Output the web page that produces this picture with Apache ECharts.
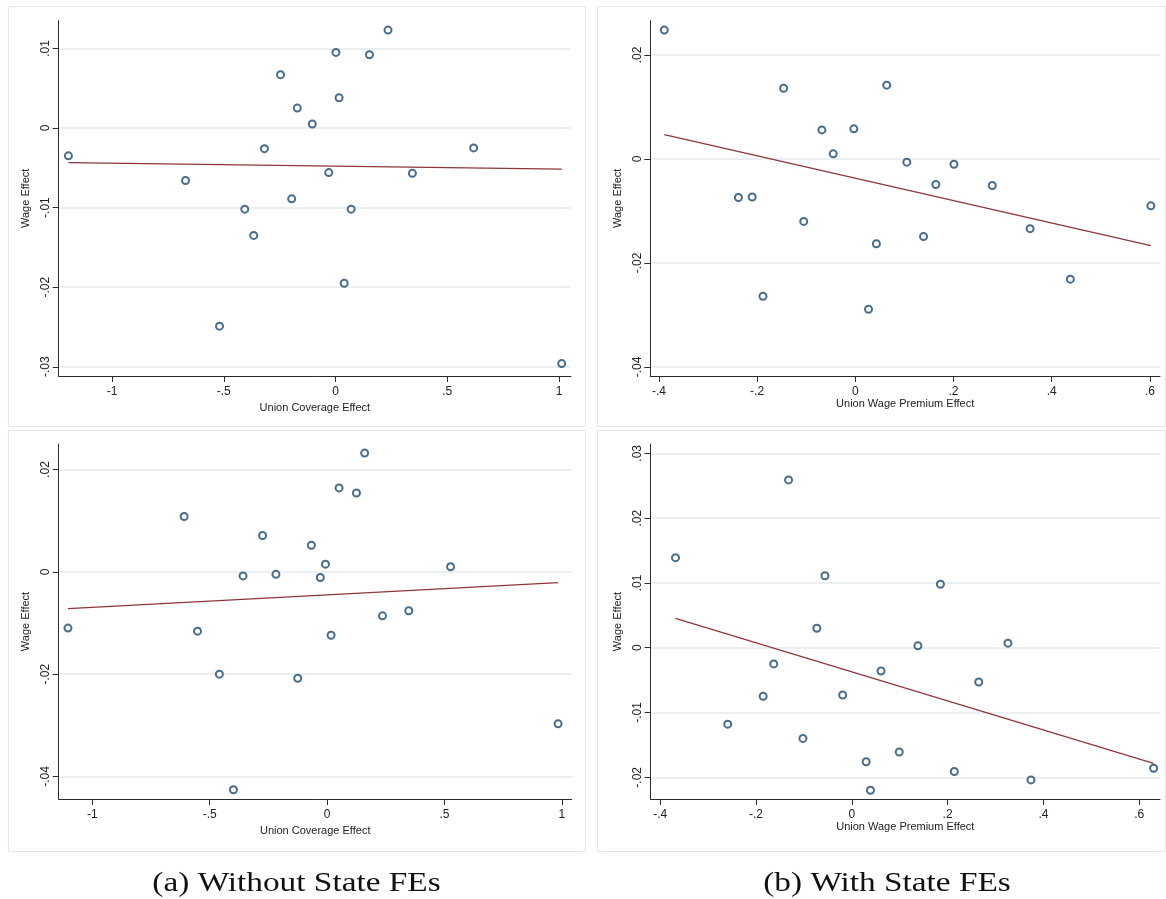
<!DOCTYPE html>
<html><head><meta charset="utf-8">
<script src="https://cdn.jsdelivr.net/npm/echarts@6/dist/echarts.min.js"></script>
<style>html,body{margin:0;padding:0;background:#fff}#c{width:1166px;height:899px}</style>
</head><body><div id="c"></div>
<script>
// ---- Data ----
// (a) Without State FEs, top: Union Coverage Effect vs Wage Effect
const tlCoverage = [-1.195,-0.671,-0.519,-0.406,-0.366,-0.318,-0.246,-0.196,-0.171,-0.104,-0.030,0.002,0.016,0.039,0.070,0.152,0.235,0.344,0.618,1.012];
const tlWage     = [-0.0035,-0.0066,-0.0249,-0.0102,-0.0135,-0.0026,0.0067,-0.0089,0.0025,0.0005,-0.0056,0.0095,0.0038,-0.0195,-0.0102,0.0092,0.0123,-0.0057,-0.0025,-0.0296];
const tlFitX = [-1.195, 1.012];
const tlFitY = [-0.00435, -0.00518];
// (a) Without State FEs, bottom
const blCoverage = [-1.104,-0.609,-0.552,-0.459,-0.399,-0.358,-0.275,-0.218,-0.125,-0.067,-0.029,-0.007,0.017,0.051,0.125,0.160,0.236,0.348,0.526,0.984];
const blWage     = [-0.0110,0.0108,-0.0116,-0.0200,-0.0426,-0.0008,0.0071,-0.0005,-0.0208,0.0052,-0.0011,0.0015,-0.0124,0.0164,0.0154,0.0232,-0.0086,-0.0076,0.0010,-0.0297];
const blFitX = [-1.104, 0.984];
const blFitY = [-0.0072, -0.00212];
// (b) With State FEs, top: Union Wage Premium Effect vs Wage Effect
const trPremium = [-0.389,-0.238,-0.210,-0.188,-0.146,-0.105,-0.068,-0.045,-0.003,0.027,0.043,0.064,0.105,0.139,0.164,0.201,0.279,0.356,0.438,0.602];
const trWage    = [0.0248,-0.0074,-0.0073,-0.0264,0.0136,-0.0120,0.0056,0.0010,0.0058,-0.0289,-0.0163,0.0142,-0.0006,-0.0149,-0.0049,-0.0010,-0.0051,-0.0134,-0.0231,-0.0090];
const trFitX = [-0.389, 0.602];
const trFitY = [0.00467, -0.01667];
// (b) With State FEs, bottom
const brPremium = [-0.368,-0.259,-0.185,-0.163,-0.132,-0.102,-0.073,-0.056,-0.019,0.030,0.039,0.061,0.099,0.138,0.185,0.214,0.265,0.326,0.374,0.630];
const brWage    = [0.0139,-0.0118,-0.0075,-0.0025,0.0259,-0.0140,0.0030,0.0111,-0.0073,-0.0176,-0.0220,-0.0036,-0.0161,0.0003,0.0098,-0.0191,-0.0053,0.0007,-0.0204,-0.0186];
const brFitX = [-0.368, 0.630];
const brFitY = [0.00453, -0.01785];

// Tick values
const coverageTicks = [-1, -0.5, 0, 0.5, 1];
const premiumTicks  = [-0.4, -0.2, 0, 0.2, 0.4, 0.6];
const tlYTicks = [-0.03, -0.02, -0.01, 0, 0.01];
const trYTicks = [-0.04, -0.02, 0, 0.02];
const blYTicks = [-0.04, -0.02, 0, 0.02];
const brYTicks = [-0.02, -0.01, 0, 0.01, 0.02, 0.03];

const xTitleCoverage = 'Union Coverage Effect';
const xTitlePremium = 'Union Wage Premium Effect';
const yTitle = 'Wage Effect';
const captions = ['(a) Without State FEs', '(b) With State FEs'];

// ---- Styling / layout ----
const FONT = 'Liberation Sans, Arial, sans-serif';
const fmt = v => String(+(+v).toFixed(4)).replace(/^(-?)0\./, '$1.');
const panels = [
  {grid:{left:58.7, top:20.7, width:512.3, height:355.3}, xr:[-1.2385,1.0537], yr:[-0.03116,0.01348], xt:coverageTicks, yt:tlYTicks, xn:xTitleCoverage, xg:26, x:tlCoverage, y:tlWage, fx:tlFitX, fy:tlFitY},
  {grid:{left:650.3, top:20.7, width:509.7, height:355.3}, xr:[-0.4175,0.6206], yr:[-0.04173,0.0266], xt:premiumTicks, yt:trYTicks, xn:xTitlePremium, xg:22, x:trPremium, y:trWage, fx:trFitX, fy:trFitY},
  {grid:{left:58.7, top:444, width:513, height:355}, xr:[-1.1434,1.0420], yr:[-0.0444,0.02498], xt:coverageTicks, yt:blYTicks, xn:xTitleCoverage, xg:26, x:blCoverage, y:blWage, fx:blFitX, fy:blFitY},
  {grid:{left:650.6, top:444, width:509.4, height:355}, xr:[-0.420,0.6434], yr:[-0.02335,0.03144], xt:premiumTicks, yt:brYTicks, xn:xTitlePremium, xg:22, x:brPremium, y:brWage, fx:brFitX, fy:brFitY}
];

const axisLine = {show:true, onZero:false, lineStyle:{color:'#2b2b2b', width:1}};
const grids = [], xAxes = [], yAxes = [], series = [];
panels.forEach((p, i) => {
  grids.push(Object.assign({containLabel:false}, p.grid));
  xAxes.push({
    type:'value', gridIndex:i, min:p.xr[0], max:p.xr[1],
    axisLine, axisTick:{show:true, length:6, customValues:p.xt, lineStyle:{color:'#2b2b2b'}},
    axisLabel:{customValues:p.xt, formatter:fmt, margin:10, fontSize:12, color:'#222', fontFamily:FONT},
    splitLine:{show:false},
    name:p.xn, nameLocation:'middle', nameGap:p.xg,
    nameTextStyle:{fontSize:11, color:'#222', fontFamily:FONT}
  });
  yAxes.push({
    type:'value', gridIndex:i, min:p.yr[0], max:p.yr[1],
    axisLine, axisTick:{show:true, length:6, customValues:p.yt, lineStyle:{color:'#2b2b2b'}},
    axisLabel:{customValues:p.yt, formatter:fmt, rotate:90, margin:7, fontSize:12, color:'#222', fontFamily:FONT},
    splitLine:{show:true, lineStyle:{color:'#e3ebed', width:1.5}},
    name:yTitle, nameLocation:'middle', nameGap:27,
    nameTextStyle:{fontSize:11, color:'#222', fontFamily:FONT}
  });
  series.push({
    type:'scatter', xAxisIndex:i, yAxisIndex:i,
    symbol:'emptyCircle', symbolSize:7,
    itemStyle:{color:'#1a476f', borderWidth:1.25},
    data:p.x.map((v, k) => [v, p.y[k]]), z:3
  });
  series.push({
    type:'line', xAxisIndex:i, yAxisIndex:i, symbol:'none',
    lineStyle:{color:'#90353b', width:1.3},
    data:p.fx.map((v, k) => [v, p.fy[k]]), z:2
  });
});

const frame = (x, y, w, h) => ({type:'rect', shape:{x, y, width:w, height:h}, style:{fill:'none', stroke:'#e1e8ea', lineWidth:1}, silent:true});
const caption = (text, cx) => ({
  type:'text', x:cx, y:884, scaleX:1.19, scaleY:1,
  style:{text, font:'normal 28px "Liberation Serif", serif', fill:'#111', textAlign:'center', textVerticalAlign:'middle'},
  silent:true
});

const chart = echarts.init(document.getElementById('c'), null, {renderer:'canvas'});
chart.setOption({
  backgroundColor:'#fff',
  animation:false,
  grid:grids, xAxis:xAxes, yAxis:yAxes, series,
  graphic:[
    frame(8.5, 6.5, 577, 420),
    frame(597.5, 6.5, 568, 420),
    frame(8.5, 430.5, 577, 421),
    frame(597.5, 430.5, 568, 421),
    caption(captions[0], 296.5),
    caption(captions[1], 887)
  ]
});
</script>
</body></html>
